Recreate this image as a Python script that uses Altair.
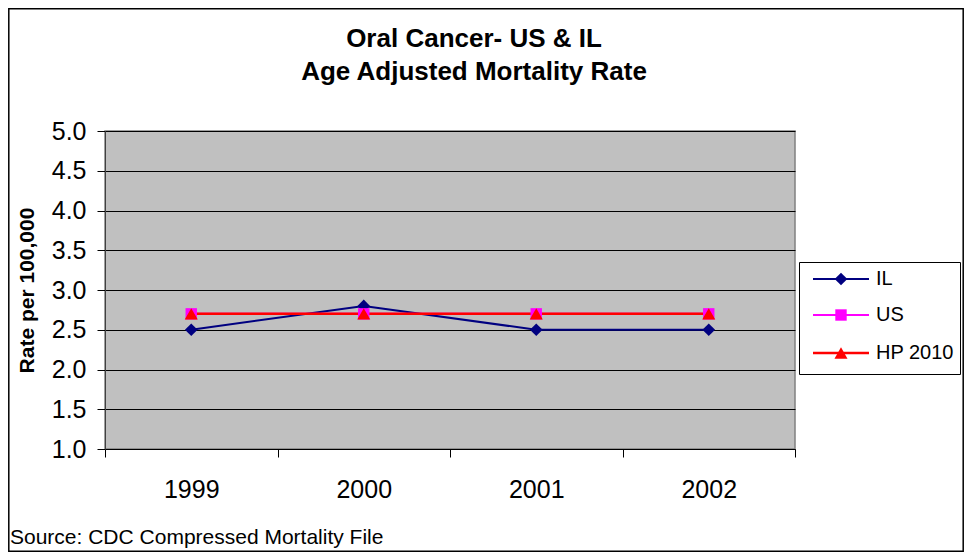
import altair as alt
import pandas as pd

years = ["1999", "2000", "2001", "2002"]
series = ["IL", "US", "HP 2010"]
il_values = [2.5, 2.8, 2.5, 2.5]
us_values = [2.7, 2.7, 2.7, 2.7]
hp_values = [2.7, 2.7, 2.7, 2.7]
y_ticks = [1.0, 1.5, 2.0, 2.5, 3.0, 3.5, 4.0, 4.5, 5.0]
title_lines = ["Oral Cancer- US & IL", "Age Adjusted Mortality Rate"]
y_title = "Rate per 100,000"
source_text = "Source: CDC Compressed Mortality File"

colors = {"IL": "#000080", "US": "#FF00FF", "HP 2010": "#FF0000"}
shapes = {"IL": "diamond", "US": "square", "HP 2010": "triangle-up"}
sizes = {"IL": 160, "US": 130, "HP 2010": 170}
widths = {"IL": 2, "US": 2, "HP 2010": 2.5}

rows = []
for name, vals in zip(series, [il_values, us_values, hp_values]):
    for yr, v in zip(years, vals):
        rows.append({"year": yr, "rate": v, "series": name})
df = pd.DataFrame(rows)

W, H = 690, 318
PL, PT, PR, PB = 97, 123, 169, 103
FONT = "Liberation Sans"

x_enc = alt.X(
    "year:N",
    bandPosition=0.5,
    scale=alt.Scale(type="band", domain=years, paddingInner=0, paddingOuter=0),
    axis=alt.Axis(
        title=None, labelAngle=0, tickBand="extent", tickSize=8, tickColor="black",
        domainColor="black", labelFontSize=25, labelFont=FONT, labelColor="black",
        labelPadding=20, grid=False,
    ),
)
y_enc = alt.Y(
    "rate:Q",
    scale=alt.Scale(domain=[1, 5], nice=False, zero=False),
    axis=alt.Axis(
        values=y_ticks, format=".1f", title=y_title, titleFont=FONT, titleFontSize=21,
        titleFontWeight="bold", titleColor="black", titleAngle=270, titleX=-78, titleY=H / 2,
        titleAlign="center", titleBaseline="middle",
        tickSize=8, tickColor="black", domainColor="#404040", labelFontSize=25, labelFont=FONT,
        labelColor="black", labelPadding=11, grid=True, gridColor="black", gridWidth=1,
        gridOpacity=1,
    ),
)

layers = []
for name in series:
    sub = df[df.series == name]
    layers.append(
        alt.Chart(sub).mark_line(color=colors[name], strokeWidth=widths[name]).encode(x=x_enc, y=y_enc)
    )
for name in series:
    sub = df[df.series == name]
    layers.append(
        alt.Chart(sub).mark_point(
            shape=shapes[name], filled=True, color=colors[name], size=sizes[name], opacity=1
        ).encode(x=x_enc, y=y_enc)
    )

# title
for i, line in enumerate(title_lines):
    layers.append(
        alt.Chart(pd.DataFrame({"t": [line]})).mark_text(
            font=FONT, fontSize=26, fontWeight="bold", color="black", align="center",
            baseline="middle",
        ).encode(text="t:N", x=alt.value(369), y=alt.value(-92 + 33 * i))
    )

# source
layers.append(
    alt.Chart(pd.DataFrame({"t": [source_text]})).mark_text(
        font=FONT, fontSize=21, color="black", align="left", baseline="alphabetic",
    ).encode(text="t:N", x=alt.value(-95), y=alt.value(413))
)

# outer frame
layers.append(
    alt.Chart(pd.DataFrame({"a": [0]})).mark_rect(fill=None, stroke="black", strokeWidth=1.5).encode(
        x=alt.value(-96.2), x2=alt.value(W + PR - 0.8), y=alt.value(-122.2), y2=alt.value(H + PB - 0.8)
    )
)

# legend
layers.append(
    alt.Chart(pd.DataFrame({"a": [0]})).mark_rect(fill="white", stroke="black", strokeWidth=1).encode(
        x=alt.value(694.5), x2=alt.value(855.5), y=alt.value(131.5), y2=alt.value(243.5)
    )
)
legend_rows = [148, 184, 222]
for name, ly in zip(series, legend_rows):
    ld = pd.DataFrame({"series": [name]})
    layers.append(
        alt.Chart(ld).mark_rule(color=colors[name], strokeWidth=widths[name]).encode(
            x=alt.value(708), x2=alt.value(764), y=alt.value(ly)
        )
    )
    layers.append(
        alt.Chart(ld).mark_point(
            shape=shapes[name], filled=True, color=colors[name], size=sizes[name], opacity=1
        ).encode(x=alt.value(736), y=alt.value(ly))
    )
    layers.append(
        alt.Chart(ld).mark_text(
            font=FONT, fontSize=20, color="black", align="left", baseline="middle"
        ).encode(text="series:N", x=alt.value(771), y=alt.value(ly))
    )

chart = alt.layer(*layers).properties(
    width=W, height=H,
    autosize=alt.AutoSizeParams(type="none"),
    padding={"left": PL, "top": PT, "right": PR, "bottom": PB},
    background="white",
).configure_view(fill="#C0C0C0", stroke="#808080", strokeWidth=1.5)

chart.save("out.html", embed_options={"renderer": "svg", "actions": False})
